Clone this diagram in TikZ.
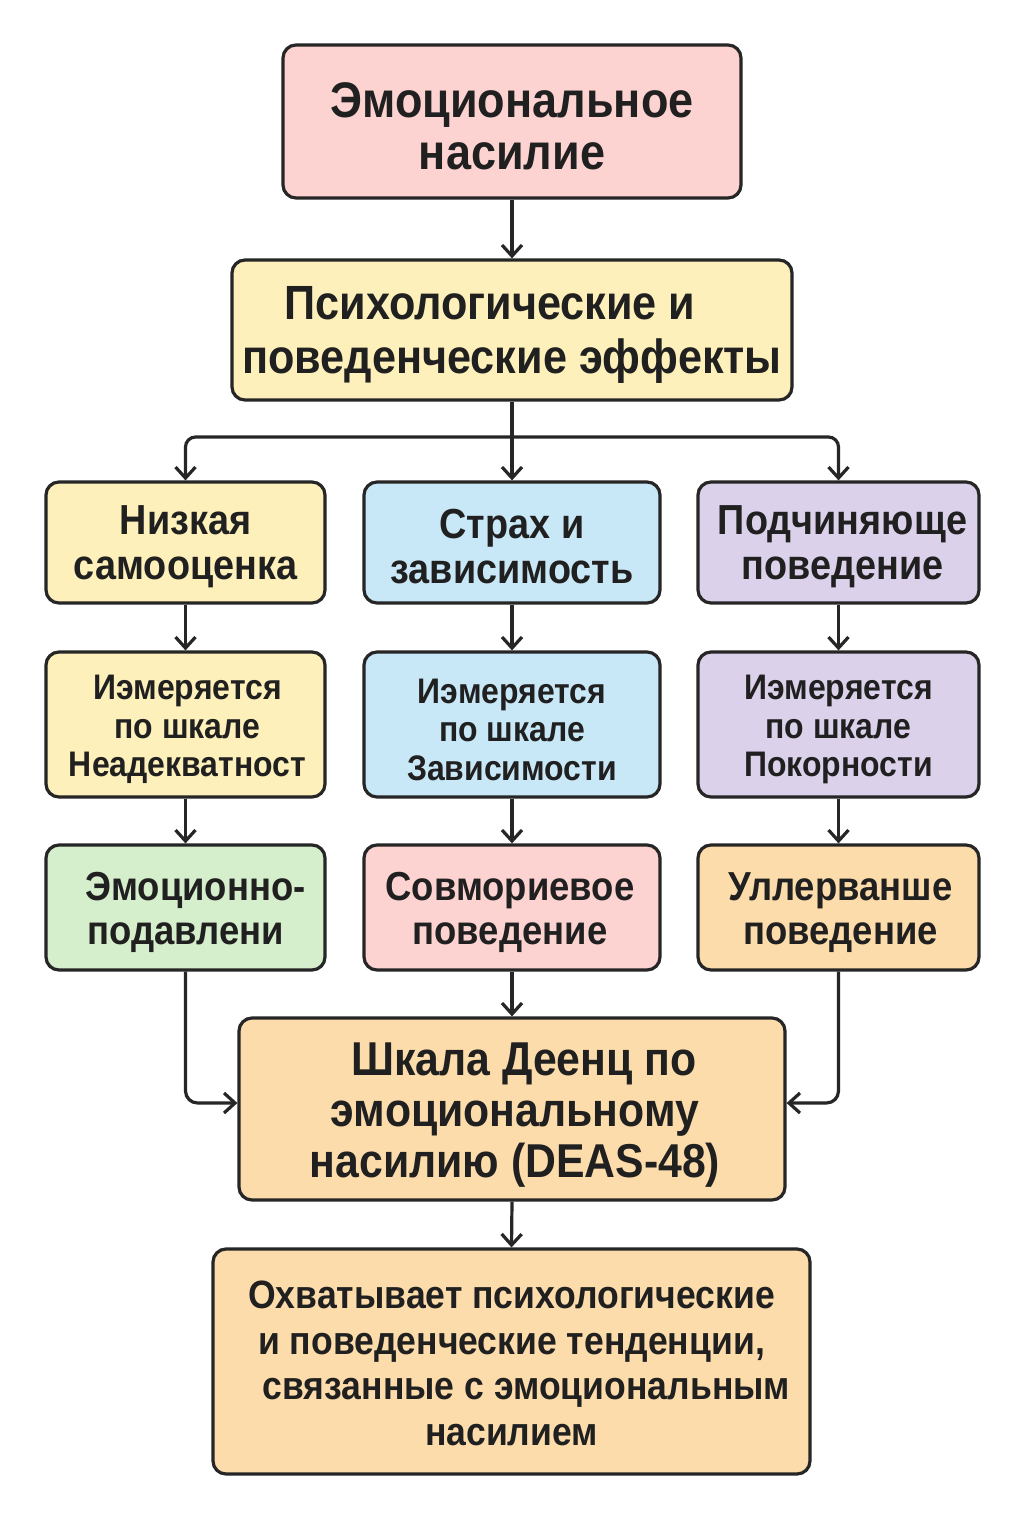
\documentclass[tikz,border=0pt]{standalone}
\usepackage{fontspec}
\setmainfont{Liberation Sans}[FakeStretch=0.9]
\usetikzlibrary{arrows.meta,positioning,calc}
\definecolor{cpink}{HTML}{FDD3D1}
\definecolor{cyellow}{HTML}{FDF0BA}
\definecolor{cblue}{HTML}{C9E8F7}
\definecolor{cpurple}{HTML}{DCD1EA}
\definecolor{cgreen}{HTML}{D5EECB}
\definecolor{cpeach}{HTML}{FDDCAB}
\definecolor{cline}{HTML}{262626}
\definecolor{ctext}{HTML}{202020}
\begin{document}
\begin{tikzpicture}[x=1pt,y=-1pt,
  box/.style={draw=cline, line width=3.2pt, rounded corners=13pt, rectangle, inner sep=0pt},
  txt/.style={align=center, text=ctext, inner sep=0pt},
  arr/.style={draw=cline, line width=3.2pt, -{Straight Barb[length=11pt,width=20pt,line width=3.2pt]}},
  fA/.style={font=\bfseries\fontsize{50}{52}\selectfont},
  fB/.style={font=\bfseries\fontsize{48}{54}\selectfont},
  fR1/.style={font=\bfseries\fontsize{42}{45}\selectfont},
  fR2/.style={font=\bfseries\fontsize{35.5}{38.5}\selectfont},
  fR3/.style={font=\bfseries\fontsize{40.5}{44}\selectfont},
  fD/.style={font=\bfseries\fontsize{47.5}{51}\selectfont},
  fE/.style={font=\bfseries\fontsize{39.5}{45.5}\selectfont},
]
\fill[white] (0,0) rectangle (1024,1536);
\useasboundingbox (0,0) rectangle (1024,1536);

% boxes
\node[box, fill=cpink, minimum width=458pt, minimum height=153pt] (top) at (512,121.5) {};
\node[box, fill=cyellow, minimum width=560pt, minimum height=140pt] (eff) at (512,330) {};

\node[box, fill=cyellow, minimum width=279pt, minimum height=121pt] (l1) at (185.5,542.5) {};
\node[box, fill=cblue, minimum width=296pt, minimum height=121pt] (m1) at (512,542.5) {};
\node[box, fill=cpurple, minimum width=281pt, minimum height=121pt] (r1) at (838.5,542.5) {};

\node[box, fill=cyellow, minimum width=279pt, minimum height=145pt] (l2) at (185.5,724.5) {};
\node[box, fill=cblue, minimum width=296pt, minimum height=145pt] (m2) at (512,724.5) {};
\node[box, fill=cpurple, minimum width=281pt, minimum height=145pt] (r2) at (838.5,724.5) {};

\node[box, fill=cgreen, minimum width=279pt, minimum height=125pt] (l3) at (185.5,907.5) {};
\node[box, fill=cpink, minimum width=296pt, minimum height=125pt] (m3) at (512,907.5) {};
\node[box, fill=cpeach, minimum width=281pt, minimum height=125pt] (r3) at (838.5,907.5) {};

\node[box, fill=cpeach, minimum width=546pt, minimum height=182pt] (deas) at (512,1109) {};
\node[box, fill=cpeach, minimum width=597pt, minimum height=225pt] (cov) at (511.5,1361.5) {};

% texts
\node[txt, fA] (topT) at ($(top)+(0,5)$) {Эмоциональное\\насилие};
\node[txt, fB] (effT) at ($(eff)+(0,5)$) {Психологические и\hspace*{44pt}\\поведенческие эффекты};
\node[txt, fR1] (l1T) at ($(l1)+(0,4)$) {Низкая\\самооценка};
\node[txt, fR1] (m1T) at ($(m1)+(0,4)$) {Страх и\\зависимость};
\node[txt, fR1] (r1T) at ($(r1)+(4,4)$) {Подчиняюще\\поведение};
\node[txt, fR2] (l2T) at ($(l2)+(2,5)$) {Иэмеряется\\по шкале\\Неадекватност};
\node[txt, fR2] (m2T) at ($(m2)+(0,5)$) {Иэмеряется\\по шкале\\Зависимости};
\node[txt, fR2] (r2T) at ($(r2)+(0,5)$) {Иэмеряется\\по шкале\\Покорности};
\node[txt, fR3] (l3T) at ($(l3)+(0,5)$) {\hspace*{20pt}Эмоционно-\\подавлени};
\node[txt, fR3] (m3T) at ($(m3)+(-2,5)$) {Совмориевое\\поведение};
\node[txt, fR3] (r3T) at ($(r3)+(2,5)$) {Уллерванше\\поведение};
\node[txt, fD] (deasT) at ($(deas)+(3,6)$) {\hspace*{18pt}Шкала Деенц по\\эмоциональному\\насилию (DEAS-48)};
\node[txt, fE] (covT) at ($(cov)+(0,2)$) {Охватывает психологические\\и поведенческие тенденции,\\\hspace*{30pt}связанные с эмоциональным\\насилием};

% connectors
\coordinate (bj) at (512,437);
\draw[arr] (top.south) -- (eff.north);
\draw[arr] (eff.south) -- (m1.north);
\draw[arr, rounded corners=10pt] (bj) -| (l1.north);
\draw[arr, rounded corners=10pt] (bj) -| (r1.north);

\draw[arr] (l1.south) -- (l2.north);
\draw[arr] (m1.south) -- (m2.north);
\draw[arr] (r1.south) -- (r2.north);
\draw[arr] (l2.south) -- (l3.north);
\draw[arr] (m2.south) -- (m3.north);
\draw[arr] (r2.south) -- (r3.north);

\draw[arr] (m3.south) -- (deas.north);
\draw[arr, rounded corners=12pt] (l3.south) |- ($(deas.west)+(0,-6)$);
\draw[arr, rounded corners=12pt] (r3.south) |- ($(deas.east)+(0,-6)$);
\draw[arr] (deas.south) -- (cov.north);
\end{tikzpicture}
\end{document}
